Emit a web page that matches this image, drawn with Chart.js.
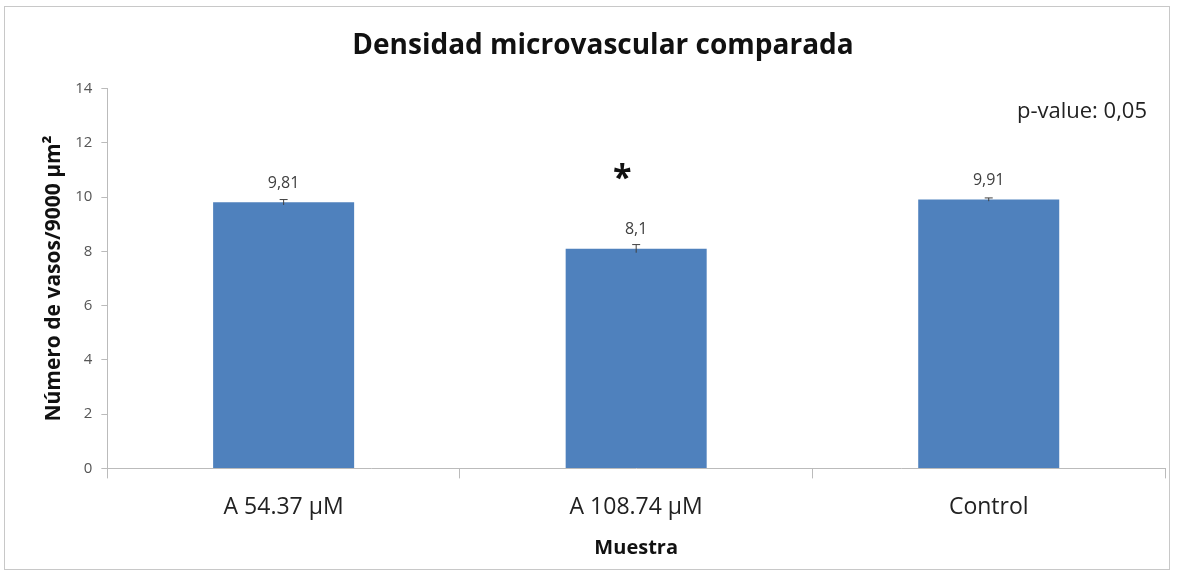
<!DOCTYPE html>
<html>
<head>
<meta charset="utf-8">
<script src="https://cdn.jsdelivr.net/npm/chart.js@4.4.1/dist/chart.umd.min.js"></script>
<style>
  html, body { margin: 0; padding: 0; background: #fff; }
  .frame { position: absolute; left: 4px; top: 6px; width: 1166px; height: 564px; border: 1px solid #c8c8c8; box-sizing: border-box; }
  .chart-container { position: absolute; left: 0; top: 0; width: 1177px; height: 580px; }
</style>
</head>
<body>
<div class="frame"></div>
<div class="chart-container"><canvas id="myChart"></canvas></div>
<script>
const categories = ['A 54.37 µM', 'A 108.74 µM', 'Control'];
const values = [9.81, 8.1, 9.91];
const errors = [0.1, 0.15, 0.06];
const valueLabels = ['9,81', '8,1', '9,91'];
const marks = ['', '*', ''];
const yTicks = [0, 2, 4, 6, 8, 10, 12, 14];

const barExtras = {
    id: 'barExtras',
    afterDatasetsDraw(chart) {
        const ctx = chart.ctx;
        const y = chart.scales.y;
        const meta = chart.getDatasetMeta(0);
        ctx.save();
        meta.data.forEach((bar, i) => {
            // error bar
            const top = y.getPixelForValue(values[i] + errors[i]);
            const bot = y.getPixelForValue(values[i] - errors[i]);
            ctx.strokeStyle = '#404040';
            ctx.lineWidth = 1;
            ctx.beginPath();
            ctx.moveTo(bar.x, top); ctx.lineTo(bar.x, bot);
            ctx.moveTo(bar.x - 4, top); ctx.lineTo(bar.x + 4, top);
            ctx.stroke();
            // value label
            ctx.fillStyle = '#404040';
            ctx.font = '16px "Open Sans"';
            ctx.textAlign = 'center';
            ctx.textBaseline = 'bottom';
            ctx.fillText(valueLabels[i], bar.x, y.getPixelForValue(values[i]) - 11);
            if (marks[i]) {
                ctx.fillStyle = '#111';
                ctx.font = 'bold 34px "Open Sans"';
                ctx.fillText(marks[i], bar.x - 14, y.getPixelForValue(values[i]) - 52);
            }
        });
        ctx.fillStyle = '#222';
        ctx.font = '22px "Open Sans"';
        ctx.textAlign = 'right';
        ctx.textBaseline = 'middle';
        ctx.fillText('p-value: 0,05', chart.chartArea.right - 18, y.getPixelForValue(13.15));
        ctx.restore();
    }
};

new Chart(document.getElementById('myChart'), {
    type: 'bar',
    data: {
        labels: categories,
        datasets: [{
            data: values,
            backgroundColor: '#4f81bd',
            borderWidth: 0,
            barPercentage: 0.4,
            categoryPercentage: 1.0
        }]
    },
    options: {
        responsive: true,
        maintainAspectRatio: false,
        animation: false,
        layout: { padding: { left: 41, right: 12, top: 15, bottom: 16 } },
        plugins: {
            legend: { display: false },
            tooltip: { enabled: false },
            title: {
                display: true,
                text: 'Densidad microvascular comparada',
                color: '#111',
                font: { family: 'Open Sans', size: 28, weight: 'bold' },
                padding: { top: 14, bottom: 26 }
            }
        },
        scales: {
            x: {
                grid: { offset: true, drawOnChartArea: false, color: '#bbb', tickLength: 10 },
                border: { color: '#bbb' },
                ticks: { color: '#222', font: { family: 'Open Sans', size: 23 }, padding: 15 },
                title: { display: true, text: 'Muestra', color: '#111', font: { family: 'Open Sans', size: 20, weight: 'bold' }, padding: { top: 0 } }
            },
            y: {
                min: 0, max: 14,
                afterBuildTicks: (axis) => { axis.ticks = yTicks.map(v => ({ value: v })); },
                grid: { drawOnChartArea: false, color: '#bbb', tickLength: 6 },
                border: { color: '#bbb' },
                ticks: { color: '#555', font: { family: 'Open Sans', size: 15 }, padding: 9 },
                title: { display: true, text: 'Número de vasos/9000 µm²', color: '#111', font: { family: 'Open Sans', size: 21, weight: 'bold' }, padding: { top: 0, bottom: 0 } }
            }
        }
    },
    plugins: [barExtras]
});
</script>
</body>
</html>
